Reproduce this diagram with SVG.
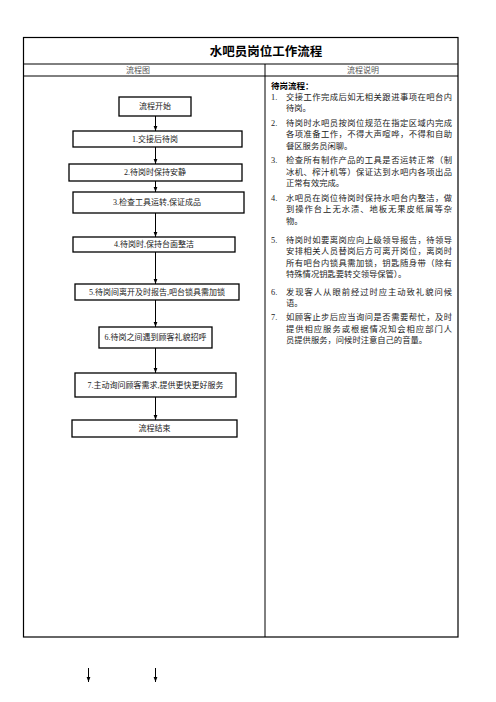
<svg xmlns="http://www.w3.org/2000/svg" width="496" height="702" viewBox="0 0 496 702">
<defs>
<marker id="ah" viewBox="0 0 8 6" refX="8" refY="3" markerWidth="5.5" markerHeight="4.5" orient="auto" markerUnits="userSpaceOnUse">
<path d="M0,0 L8,3 L0,6 Z" fill="#000"/>
</marker>
</defs>
<style>
.tb{fill:none;stroke:#000;stroke-width:1.2}
.ln{stroke:#000;stroke-width:1}
.box{fill:#fff;stroke:#000;stroke-width:1.3}
.bt{font-family:"Liberation Serif","Noto Sans CJK SC",serif;font-size:8px;fill:#222;text-anchor:middle;dominant-baseline:central}
.hd{font-family:"Liberation Serif","Noto Sans CJK SC",serif;font-size:8px;fill:#555;text-anchor:middle;dominant-baseline:central}
.ttl{font-family:"Liberation Sans","Noto Sans CJK SC",sans-serif;font-size:12.5px;font-weight:bold;fill:#000;text-anchor:middle;dominant-baseline:central}
.rt{font-family:"Liberation Serif","Noto Sans CJK SC",serif;font-size:8.3px;fill:#222;dominant-baseline:central}
.rb{font-family:"Liberation Sans","Noto Sans CJK SC",sans-serif;font-size:8.5px;font-weight:bold;fill:#000;dominant-baseline:central}
.cn{stroke:#000;stroke-width:1;fill:none;marker-end:url(#ah)}
</style>
<rect width="496" height="702" fill="#fff"/>
<g id="table">
<rect class="tb" x="23.5" y="37.5" width="434.5" height="599.5"/>
<line class="ln" x1="23.5" y1="64" x2="458" y2="64"/>
<line class="ln" x1="23.5" y1="76" x2="458" y2="76"/>
<line class="ln" x1="265" y1="64" x2="265" y2="637"/>
<text class="ttl" x="266" y="51.5">水吧员岗位工作流程</text>
<text class="hd" x="138" y="70">流程图</text>
<text class="hd" x="363" y="70">流程说明</text>
</g>
<g id="connectors">
<line class="cn" x1="155.5" y1="116" x2="155.5" y2="131"/>
<line class="cn" x1="155.5" y1="147" x2="155.5" y2="164"/>
<line class="cn" x1="155.5" y1="181" x2="155.5" y2="192"/>
<line class="cn" x1="155.5" y1="213" x2="155.5" y2="237"/>
<line class="cn" x1="155.5" y1="252" x2="155.5" y2="284"/>
<line class="cn" x1="155.5" y1="300" x2="155.5" y2="327"/>
<line class="cn" x1="155.5" y1="348" x2="155.5" y2="373"/>
<line class="cn" x1="155.5" y1="397" x2="155.5" y2="420"/>
<line class="cn" x1="88.5" y1="668" x2="88.5" y2="682"/>
<line class="cn" x1="155.5" y1="668" x2="155.5" y2="682"/>
</g>
<g id="n-start"><rect class="box" x="119" y="97" width="72" height="19"/><text class="bt" x="155" y="106.5">流程开始</text></g>
<g id="n1"><rect class="box" x="73" y="131" width="169" height="16"/><text class="bt" x="155" y="139">1.交接后待岗</text></g>
<g id="n2"><rect class="box" x="69" y="164" width="173" height="17"/><text class="bt" x="155" y="172.5">2.待岗时保持安静</text></g>
<g id="n3"><rect class="box" x="73" y="192" width="171" height="21"/><text class="bt" x="157" y="202.5">3.检查工具运转,保证成品</text></g>
<g id="n4"><rect class="box" x="73" y="237" width="162" height="15"/><text class="bt" x="154" y="244.5">4.待岗时,保持台面整洁</text></g>
<g id="n5"><rect class="box" x="75" y="284" width="164" height="16"/><text class="bt" x="157" y="292">5.待岗间离开及时报告,吧台锁具需加锁</text></g>
<g id="n6"><rect class="box" x="99" y="327" width="113" height="21"/><text class="bt" x="155.5" y="337.5">6.待岗之间遇到顾客礼貌招呼</text></g>
<g id="n7"><rect class="box" x="75" y="373" width="161" height="24"/><text class="bt" x="155.5" y="385">7.主动询问顾客需求,提供更快更好服务</text></g>
<g id="n-end"><rect class="box" x="72" y="420" width="165" height="17"/><text class="bt" x="154.5" y="428.5">流程结束</text></g>
<g id="desc">
<text class="rb" x="271" y="86">待岗流程：</text>
<text class="rt" x="271" y="97">1.</text>
<text class="rt" x="286" y="97" textLength="166" lengthAdjust="spacing">交接工作完成后如无相关跟进事项在吧台内</text>
<text class="rt" x="286" y="108.6">待岗。</text>
<text class="rt" x="271" y="123">2.</text>
<text class="rt" x="286" y="123" textLength="166" lengthAdjust="spacing">待岗时水吧员按岗位规范在指定区域内完成</text>
<text class="rt" x="286" y="134.6" textLength="166" lengthAdjust="spacing">各项准备工作，不得大声喧哗，不得和自助</text>
<text class="rt" x="286" y="146.2">餐区服务员闲聊。</text>
<text class="rt" x="271" y="160.5">3.</text>
<text class="rt" x="286" y="160.5" textLength="166" lengthAdjust="spacing">检查所有制作产品的工具是否运转正常（制</text>
<text class="rt" x="286" y="172.1" textLength="166" lengthAdjust="spacing">冰机、榨汁机等）保证达到水吧内各项出品</text>
<text class="rt" x="286" y="183.7">正常有效完成。</text>
<text class="rt" x="271" y="198">4.</text>
<text class="rt" x="286" y="198" textLength="166" lengthAdjust="spacing">水吧员在岗位待岗时保持水吧台内整洁，做</text>
<text class="rt" x="286" y="209.6" textLength="166" lengthAdjust="spacing">到操作台上无水渍、地板无果皮纸屑等杂</text>
<text class="rt" x="286" y="221.2">物。</text>
<text class="rt" x="271" y="240">5.</text>
<text class="rt" x="286" y="240" textLength="166" lengthAdjust="spacing">待岗时如要离岗应向上级领导报告，待领导</text>
<text class="rt" x="286" y="251.6" textLength="166" lengthAdjust="spacing">安排相关人员替岗后方可离开岗位，离岗时</text>
<text class="rt" x="286" y="263.2" textLength="166" lengthAdjust="spacing">所有吧台内锁具需加锁，钥匙随身带（除有</text>
<text class="rt" x="286" y="274.8">特殊情况钥匙要转交领导保管）。</text>
<text class="rt" x="271" y="292">6.</text>
<text class="rt" x="286" y="292" textLength="166" lengthAdjust="spacing">发现客人从眼前经过时应主动致礼貌问候</text>
<text class="rt" x="286" y="303.6">语。</text>
<text class="rt" x="271" y="317.5">7.</text>
<text class="rt" x="286" y="317.5" textLength="166" lengthAdjust="spacing">如顾客止步后应当询问是否需要帮忙，及时</text>
<text class="rt" x="286" y="329.1" textLength="166" lengthAdjust="spacing">提供相应服务或根据情况知会相应部门人</text>
<text class="rt" x="286" y="340.7">员提供服务，问候时注意自己的音量。</text>
</g>
</svg>
